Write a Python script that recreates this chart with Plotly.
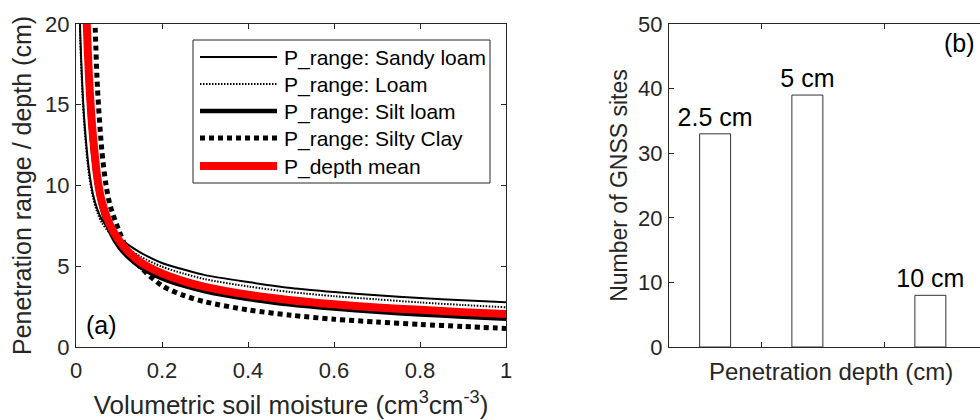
import plotly.graph_objects as go

# ---------------- data ----------------
theta_sandy = [0.008, 0.01, 0.015, 0.02, 0.03, 0.04, 0.05, 0.06, 0.08, 0.1, 0.12, 0.15,
               0.2, 0.25, 0.3, 0.4, 0.5, 0.6, 0.7, 0.8, 0.9, 1.0]
p_sandy_loam = [22, 19.3, 16, 13.8, 11, 9.4, 8.5, 7.9, 7.2, 6.75, 6.35, 5.85,
                5.2, 4.8, 4.45, 4.02, 3.65, 3.4, 3.2, 3.03, 2.9, 2.77]

theta_loam = [0.008, 0.01, 0.015, 0.02, 0.03, 0.04, 0.05, 0.06, 0.08, 0.1, 0.12, 0.15,
              0.2, 0.25, 0.3, 0.4, 0.5, 0.6, 0.7, 0.8, 0.9, 1.0]
p_loam = [21.8, 19, 15.7, 13.5, 10.7, 9.2, 8.3, 7.7, 7.0, 6.5, 6.1, 5.6,
          4.97, 4.55, 4.2, 3.75, 3.4, 3.15, 2.95, 2.76, 2.6, 2.46]

theta_silt = [0.018, 0.02, 0.025, 0.03, 0.04, 0.05, 0.06, 0.08, 0.1, 0.12, 0.15,
              0.2, 0.25, 0.3, 0.4, 0.5, 0.6, 0.7, 0.8, 0.9, 1.0]
p_silt_loam = [24, 22, 18.5, 15.5, 12, 9.9, 8.6, 7.1, 6.2, 5.6, 4.95,
               4.25, 3.8, 3.45, 2.97, 2.63, 2.38, 2.18, 2.02, 1.88, 1.75]

theta_clay = [0.042, 0.045, 0.05, 0.06, 0.07, 0.08, 0.1, 0.12, 0.15,
              0.2, 0.25, 0.3, 0.4, 0.5, 0.6, 0.7, 0.8, 0.9, 1.0]
p_silty_clay = [22, 19.5, 16, 12.2, 10, 8.7, 7.2, 6.0, 4.95,
                3.8, 3.2, 2.8, 2.3, 1.97, 1.72, 1.55, 1.4, 1.27, 1.15]

theta_mean = [0.022, 0.025, 0.03, 0.035, 0.04, 0.05, 0.06, 0.08, 0.1, 0.12, 0.15,
              0.2, 0.25, 0.3, 0.4, 0.5, 0.6, 0.7, 0.8, 0.9, 1.0]
p_depth_mean = [22.5, 20, 16.8, 14.6, 12.9, 10.4, 9.0, 7.5, 6.6, 5.95, 5.25,
                4.56, 4.08, 3.72, 3.24, 2.9, 2.65, 2.45, 2.3, 2.16, 2.05]

depth_labels = ["2.5 cm", "5 cm", "10 cm"]
depth_positions = [0.625, 1.375, 2.375]
site_counts = [33, 39, 8]

series_names = ["P_range: Sandy loam", "P_range: Loam", "P_range: Silt loam",
                "P_range: Silty Clay", "P_depth mean"]

# ---------------- figure ----------------
W, H = 980, 420
FONT = "Liberation Sans, Arial, Helvetica, sans-serif"
AX = "#262626"

def px(x):
    return x / W

def py(y):
    return 1 - y / H

styles = [
    dict(color="black", width=2, dash="solid"),
    dict(color="black", width=2, dash="1.5px,1.5px"),
    dict(color="black", width=4.5, dash="solid"),
    dict(color="black", width=5, dash="5px,4px"),
    dict(color="#ff0000", width=8, dash="solid"),
]
curves = [(theta_sandy, p_sandy_loam), (theta_loam, p_loam), (theta_silt, p_silt_loam),
          (theta_clay, p_silty_clay), (theta_mean, p_depth_mean)]

fig = go.Figure()
for (xs, ys), name, st in zip(curves, series_names, styles):
    fig.add_trace(go.Scatter(x=xs, y=ys, name=name, mode="lines",
                             line=dict(shape="spline", smoothing=0.8, **st),
                             showlegend=False, xaxis="x", yaxis="y"))

fig.add_trace(go.Bar(x=depth_positions, y=site_counts, text=depth_labels,
                     textposition="outside", cliponaxis=False, constraintext="none",
                     textfont=dict(family=FONT, size=25, color="black"),
                     marker=dict(color="white", line=dict(color="#333333", width=1)),
                     width=0.252, showlegend=False, xaxis="x2", yaxis="y2"))

ydom = [py(347), py(24)]
common_ax = dict(showline=True, linecolor=AX, linewidth=1, ticks="inside", ticklen=5,
                 tickcolor=AX, showgrid=False, zeroline=False, automargin=False,
                 tickfont=dict(family=FONT, size=22, color=AX))

fig.update_layout(
    width=W, height=H, margin=dict(l=0, r=0, t=0, b=0, autoexpand=False),
    paper_bgcolor="white", plot_bgcolor="white",
    font=dict(family=FONT, color=AX),
    xaxis=dict(domain=[px(76), px(506)], range=[0, 1], dtick=0.2, mirror="ticks",
               anchor="y", ticklabelstandoff=4,
               title=dict(text="Volumetric soil moisture (cm<sup>3</sup>cm<sup>-3</sup>)",
                          font=dict(family=FONT, size=26, color=AX), standoff=20),
               **common_ax),
    yaxis=dict(domain=ydom, range=[0, 20], dtick=5, mirror="ticks", anchor="x",
               ticklabelstandoff=1,
               title=dict(text="Penetration range / depth (cm)",
                          font=dict(family=FONT, size=25, color=AX), standoff=6),
               **common_ax),
    xaxis2=dict(domain=[px(669), 1.0], range=[0.25, 0.25 + 311 / 123],
                tickvals=[1, 2, 3], showticklabels=False, mirror="ticks", anchor="y2",
                **common_ax),
    yaxis2=dict(domain=ydom, range=[0, 50], dtick=10, mirror=False, anchor="x2",
                ticklabelstandoff=1,
                title=dict(text="Number of GNSS sites",
                           font=dict(family=FONT, size=23, color=AX), standoff=4),
                **common_ax),
)

# manual legend (box, sample lines, labels)
shapes = [dict(type="rect", xref="paper", yref="paper",
               x0=px(193), x1=px(490), y0=py(183), y1=py(40),
               line=dict(color=AX, width=1), fillcolor="white", layer="above")]
row_y = [57, 84, 111, 138, 166]
annotations = []
for name, st, yy in zip(series_names, styles, row_y):
    shapes.append(dict(type="line", xref="paper", yref="paper",
                       x0=px(200), x1=px(277), y0=py(yy), y1=py(yy),
                       line=dict(color=st["color"], width=st["width"], dash=st["dash"]),
                       layer="above"))
    annotations.append(dict(text=name, xref="paper", yref="paper", x=px(282), y=py(yy + 1),
                            xanchor="left", yanchor="middle", showarrow=False,
                            font=dict(family=FONT, size=21, color="black")))

annotations += [
    dict(text="(a)", xref="paper", yref="paper", x=px(84), y=py(325), xanchor="left",
         yanchor="middle", showarrow=False, font=dict(family=FONT, size=25, color="black")),
    dict(text="(b)", xref="paper", yref="paper", x=px(942), y=py(43), xanchor="left",
         yanchor="middle", showarrow=False, font=dict(family=FONT, size=25, color="black")),
    dict(text="Penetration depth (cm)", xref="paper", yref="paper", x=px(831), y=py(371),
         xanchor="center", yanchor="middle", showarrow=False,
         font=dict(family=FONT, size=24, color=AX)),
]
fig.update_layout(shapes=shapes, annotations=annotations)

fig.write_html("out.html")
